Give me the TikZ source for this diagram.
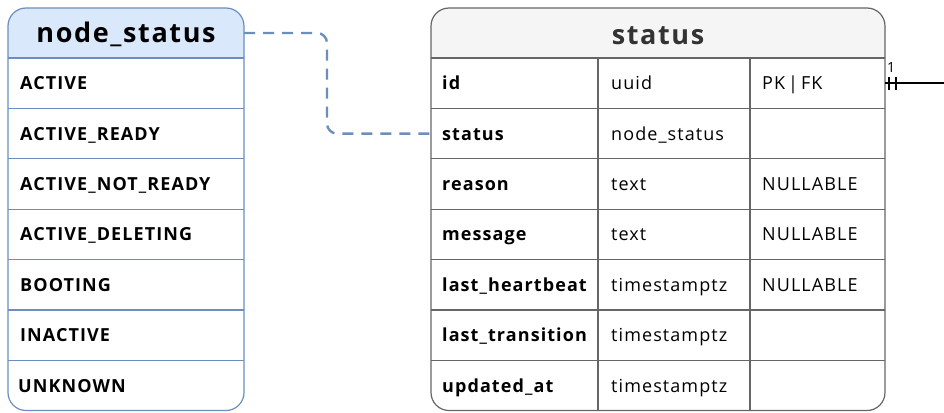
\documentclass[tikz,border=0pt]{standalone}
\usepackage{fontspec}
\setmainfont{Open Sans}[LetterSpace=6]
\definecolor{enumfill}{HTML}{DAE8FC}
\definecolor{enumline}{HTML}{6C8EBF}
\definecolor{tblfill}{HTML}{F5F5F5}
\definecolor{tblline}{HTML}{666666}
\definecolor{hdrtext}{HTML}{333333}
\tikzset{
  cell/.style={rectangle, inner xsep=0pt, inner ysep=0pt, minimum height=50.4pt, anchor=west,
    font=\fontsize{18}{20}\selectfont, text=black, align=left, text height=13pt, text depth=0pt},
  keycell/.style={cell, font=\fontsize{18}{20}\selectfont\bfseries},
  hdr/.style={rectangle, minimum height=50pt, inner sep=0pt, text height=20pt, text depth=0pt,
    font=\fontsize{27}{30}\selectfont\bfseries},
  grid/.style={line width=1.2pt},
  enumconn/.style={draw=enumline, line width=2.4pt, dash pattern=on 11pt off 8pt, rounded corners=10pt},
  relconn/.style={draw=black, line width=2pt},
}
\begin{document}
\begin{tikzpicture}[x=1pt,y=-1pt]
\useasboundingbox (0,0) rectangle (944,412);

% ---- node_status enum ----
\begin{scope}
  \clip (8,8) rectangle (244,58);
  \fill[enumfill, rounded corners=18pt] (8,8) rectangle (244,120);
\end{scope}
\foreach \yy in {58,108.4,158.8,209.2,259.6,310,360.4}
  \draw[grid, enumline] (8,\yy) -- (244,\yy);
\draw[grid, enumline, rounded corners=18pt] (8,8) rectangle (244,410.5);
\node[hdr, minimum width=236pt] (nshdr) at (126,33) {node\_status};
\node[keycell] (ns1) at (20,83.2) {ACTIVE};
\node[keycell] (ns2) at (20,133.6) {ACTIVE\_READY};
\node[keycell] (ns3) at (20,184) {ACTIVE\_NOT\_READY};
\node[keycell] (ns4) at (20,234.4) {ACTIVE\_DELETING};
\node[keycell] (ns5) at (20,284.8) {BOOTING};
\node[keycell] (ns6) at (20,335.2) {INACTIVE};
\node[keycell] (ns7) at (18,385.6) {UNKNOWN};

% ---- status table ----
\begin{scope}
  \clip (431,8) rectangle (885,58);
  \fill[tblfill, rounded corners=18pt] (431,8) rectangle (885,120);
\end{scope}
\foreach \yy in {58,108.4,158.8,209.2,259.6,310,360.4}
  \draw[grid, tblline] (431,\yy) -- (885,\yy);
\draw[grid, tblline] (598,58) -- (598,410.5);
\draw[grid, tblline] (750,58) -- (750,410.5);
\draw[grid, tblline, rounded corners=18pt] (431,8) rectangle (885,410.5);
\node[hdr, minimum width=454pt, text=hdrtext] (sthdr) at (658,35) {status};

\node[keycell, minimum width=167pt, text width=156pt, inner xsep=11pt] (st1) at (431,83.2) {id};
\node[keycell, minimum width=167pt, text width=156pt, inner xsep=11pt] (st2) at (431,133.6) {status};
\node[keycell, minimum width=167pt, text width=156pt, inner xsep=11pt] (st3) at (431,184) {reason};
\node[keycell, minimum width=167pt, text width=156pt, inner xsep=11pt] (st4) at (431,234.4) {message};
\node[keycell, minimum width=167pt, text width=156pt, inner xsep=11pt] (st5) at (431,284.8) {last\_heartbeat};
\node[keycell, minimum width=167pt, text width=156pt, inner xsep=11pt] (st6) at (431,335.2) {last\_transition};
\node[keycell, minimum width=167pt, text width=156pt, inner xsep=11pt] (st7) at (431,385.6) {updated\_at};

\node[cell] (ty1) at (611,83.2) {uuid};
\node[cell] (ty2) at (611,133.6) {node\_status};
\node[cell] (ty3) at (611,184) {text};
\node[cell] (ty4) at (611,234.4) {text};
\node[cell] (ty5) at (611,284.8) {timestamptz};
\node[cell] (ty6) at (611,335.2) {timestamptz};
\node[cell] (ty7) at (611,385.6) {timestamptz};

\node[cell] (kk1) at (762,83.2) {PK\,|\,FK};
\node[cell] (kk3) at (762,184) {NULLABLE};
\node[cell] (kk4) at (762,234.4) {NULLABLE};
\node[cell] (kk5) at (762,284.8) {NULLABLE};

% ---- connectors ----
\coordinate (bend) at (327,33);
\draw[enumconn] (nshdr.east) -- (bend) |- (st2.west);

\coordinate (relend) at (944,83.2);
\coordinate (relstart) at (885,83.2);
\draw[relconn] (relstart) -- (relend);
\draw[relconn, line width=1.6pt] (889,77) -- (889,90);
\draw[relconn, line width=1.6pt] (896,77) -- (896,90);
\node[font=\fontsize{14}{16}\selectfont, anchor=south west, inner sep=0pt] (card) at (887,73) {1};
\end{tikzpicture}
\end{document}
